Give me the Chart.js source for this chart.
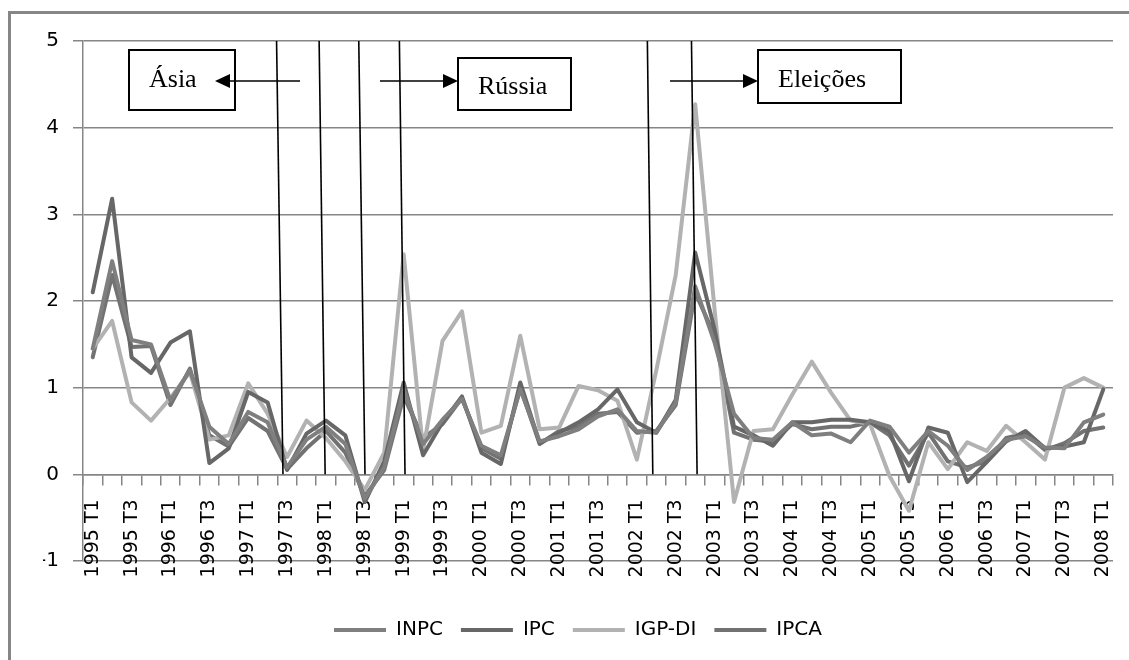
<!DOCTYPE html>
<html>
<head>
<meta charset="utf-8">
<title>Inflação trimestral</title>
<script src="https://cdn.jsdelivr.net/npm/chart.js@4.4.1/dist/chart.umd.min.js"></script>
<style>
  html, body { margin: 0; padding: 0; background: #fff; }
</style>
</head>
<body>
<canvas id="grafico" width="1129" height="660"></canvas>
<script>
// trimestres de 1995 T1 ate 2008 T1
const anos = [1995, 1996, 1997, 1998, 1999, 2000, 2001, 2002, 2003, 2004, 2005, 2006, 2007, 2008];
const trimestres = ['T1', 'T2', 'T3', 'T4'];
const categorias = [];
anos.forEach(a => trimestres.forEach(t => categorias.push(a + ' ' + t)));
categorias.splice(53); // termina em 2008 T1

const yTicks = [-1, 0, 1, 2, 3, 4, 5];

const inpc = [1.45, 2.46, 1.55, 1.5, 0.85, 1.2, 0.55, 0.35, 0.72, 0.6, 0.08, 0.4, 0.55, 0.35, -0.28, 0.08,
  0.98, 0.35, 0.63, 0.87, 0.33, 0.22, 0.98, 0.38, 0.44, 0.52, 0.67, 0.75, 0.5, 0.48, 0.83, 2.17,
  1.52, 0.7, 0.42, 0.4, 0.6, 0.45, 0.47, 0.37, 0.62, 0.55, 0.25, 0.5, 0.33, 0.05, 0.2, 0.4,
  0.44, 0.31, 0.3, 0.6, 0.69];
const ipc = [2.1, 3.18, 1.35, 1.17, 1.52, 1.65, 0.13, 0.3, 0.95, 0.83, 0.05, 0.47, 0.62, 0.45, -0.32, 0.15,
  1.06, 0.22, 0.6, 0.9, 0.25, 0.12, 1.06, 0.36, 0.48, 0.6, 0.75, 0.98, 0.6, 0.48, 0.86, 2.56,
  1.67, 0.55, 0.45, 0.33, 0.6, 0.6, 0.63, 0.63, 0.6, 0.5, -0.08, 0.54, 0.48, -0.09, 0.14, 0.38,
  0.5, 0.3, 0.32, 0.37, 0.98];
const igpdi = [1.45, 1.77, 0.83, 0.62, 0.88, 1.18, 0.4, 0.45, 1.05, 0.7, 0.2, 0.62, 0.42, 0.15, -0.18, 0.25,
  2.54, 0.28, 1.54, 1.88, 0.48, 0.56, 1.6, 0.52, 0.54, 1.02, 0.97, 0.85, 0.17, 1.2, 2.3, 4.27,
  1.9, -0.32, 0.5, 0.52, 0.92, 1.3, 0.94, 0.62, 0.58, -0.02, -0.42, 0.37, 0.06, 0.37, 0.27, 0.56,
  0.37, 0.17, 1.0, 1.11, 1.0];
const ipca = [1.35, 2.3, 1.47, 1.48, 0.8, 1.22, 0.45, 0.32, 0.65, 0.5, 0.06, 0.3, 0.5, 0.25, -0.25, 0.05,
  0.9, 0.42, 0.58, 0.88, 0.3, 0.18, 1.0, 0.35, 0.5, 0.55, 0.7, 0.72, 0.48, 0.5, 0.8, 2.1,
  1.6, 0.48, 0.4, 0.38, 0.58, 0.52, 0.55, 0.55, 0.6, 0.45, 0.1, 0.48, 0.15, 0.08, 0.15, 0.42,
  0.47, 0.28, 0.36, 0.5, 0.54];

// linhas verticais dos eventos: [indice no topo, indice na base]
const linhasEventos = [[9.46, 9.79], [11.65, 11.96], [13.69, 14.01], [15.78, 16.07], [28.54, 28.82], [30.81, 31.1]];

// caixas de texto e setas (em pixels)
const caixas = [
  {texto: 'Ásia', x: 129, y: 50, w: 106, h: 60, base: 87},
  {texto: 'Rússia', x: 458, y: 58, w: 113, h: 52, base: 94},
  {texto: 'Eleições', x: 758, y: 50, w: 143, h: 53, base: 87}
];
const setas = [
  {de: 300, ate: 215, y: 81},
  {de: 380, ate: 458, y: 81},
  {de: 670, ate: 758, y: 81}
];

const moldura = {
  id: 'moldura',
  beforeDraw(chart) {
    const ctx = chart.ctx;
    ctx.save();
    ctx.fillStyle = '#fff';
    ctx.fillRect(0, 0, chart.width, chart.height);
    ctx.strokeStyle = '#868686';
    ctx.lineWidth = 3;
    ctx.strokeRect(9.5, 12.5, 1400, 1000);
    ctx.restore();
  }
};

const eventos = {
  id: 'eventos',
  afterDatasetsDraw(chart) {
    const {ctx, scales: {x, y}} = chart;
    ctx.save();
    ctx.strokeStyle = '#000';
    ctx.lineWidth = 1.6;
    linhasEventos.forEach(([a, b]) => {
      ctx.beginPath();
      ctx.moveTo(x.getPixelForValue(a), y.getPixelForValue(5));
      ctx.lineTo(x.getPixelForValue(b), y.getPixelForValue(0));
      ctx.stroke();
    });

    // caixas primeiro, setas por cima
    ctx.lineWidth = 2;
    ctx.font = '26px "Liberation Serif", serif';
    ctx.textBaseline = 'alphabetic';
    caixas.forEach(c => {
      ctx.fillStyle = '#fff';
      ctx.fillRect(c.x, c.y, c.w, c.h);
      ctx.strokeRect(c.x, c.y, c.w, c.h);
      ctx.fillStyle = '#000';
      ctx.fillText(c.texto, c.x + 20, c.base);
    });

    ctx.lineWidth = 1.6;
    setas.forEach(s => {
      const dir = s.ate > s.de ? 1 : -1;
      ctx.beginPath();
      ctx.moveTo(s.de, s.y);
      ctx.lineTo(s.ate - dir * 14, s.y);
      ctx.stroke();
      ctx.beginPath();
      ctx.moveTo(s.ate, s.y);
      ctx.lineTo(s.ate - dir * 15, s.y - 7);
      ctx.lineTo(s.ate - dir * 15, s.y + 7);
      ctx.closePath();
      ctx.fillStyle = '#000';
      ctx.fill();
    });
    ctx.restore();
  }
};

function serie(nome, dados, cor) {
  return {
    label: nome,
    data: dados,
    borderColor: cor,
    backgroundColor: cor,
    borderWidth: 4,
    borderCapStyle: 'round',
    borderJoinStyle: 'round',
    pointRadius: 0,
    tension: 0
  };
}

new Chart(document.getElementById('grafico'), {
  type: 'line',
  data: {
    labels: categorias,
    datasets: [
      serie('INPC', inpc, '#7f7f7f'),
      serie('IPC', ipc, '#676767'),
      serie('IGP-DI', igpdi, '#b2b2b2'),
      serie('IPCA', ipca, '#727272')
    ]
  },
  options: {
    responsive: false,
    animation: false,
    devicePixelRatio: 1,
    layout: {padding: {left: 43, right: 16, top: 41, bottom: 10}},
    plugins: {
      tooltip: {enabled: false},
      legend: {
        position: 'bottom',
        title: {display: true, text: ' ', font: {size: 10}, padding: {top: 29, bottom: 0}},
        labels: {
          usePointStyle: true,
          pointStyle: 'line',
          pointStyleWidth: 52,
          padding: 18,
          color: '#000',
          font: {family: 'DejaVu Sans', size: 20}
        }
      }
    },
    scales: {
      x: {
        position: {y: 0},
        offset: true,
        afterFit: scale => { scale.paddingLeft = 0; scale.paddingRight = 0; },
        grid: {offset: true, drawOnChartArea: false, drawTicks: true, tickLength: 10, color: '#868686', lineWidth: 1.5},
        border: {display: true, color: '#868686', width: 1.5},
        ticks: {
          autoSkip: false,
          maxRotation: 90,
          minRotation: 90,
          padding: 15,
          color: '#000',
          font: {family: 'DejaVu Sans', size: 19},
          callback: function (val, i) {
            return i % 2 === 0 ? this.getLabelForValue(val) : '';
          }
        }
      },
      y: {
        min: yTicks[0],
        max: yTicks[yTicks.length - 1],
        afterFit: scale => { scale.width = 40; },
        grid: {color: '#868686', lineWidth: 1.5, tickLength: 10},
        border: {display: true, color: '#868686', width: 1.5},
        ticks: {
          stepSize: 1,
          padding: 14,
          color: '#000',
          font: {family: 'DejaVu Sans', size: 20}
        }
      }
    }
  },
  plugins: [moldura, eventos]
});
</script>
</body>
</html>
